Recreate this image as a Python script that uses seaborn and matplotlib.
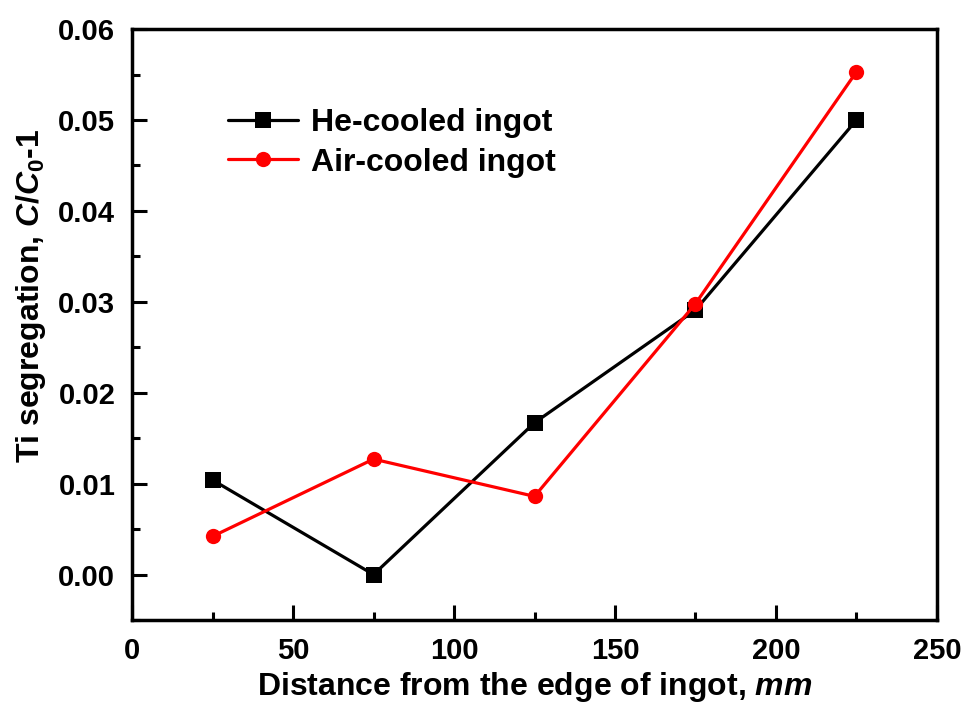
import matplotlib
matplotlib.use('Agg')
import matplotlib.pyplot as plt
import seaborn as sns
import pandas as pd
from matplotlib.ticker import MultipleLocator, FormatStrFormatter

# data
distance = [25, 75, 125, 175, 225]
he_cooled = [0.0104, 0.0000, 0.0167, 0.0291, 0.0500]
air_cooled = [0.0042, 0.0127, 0.0086, 0.0298, 0.0553]
series_names = ['He-cooled ingot', 'Air-cooled ingot']

df = pd.DataFrame({
    'Distance': distance * 2,
    'Seg': he_cooled + air_cooled,
    'Ingot': [series_names[0]] * len(distance) + [series_names[1]] * len(distance),
})

sns.set_style('ticks')
plt.rcParams['font.family'] = ['Liberation Sans', 'DejaVu Sans']
plt.rcParams['font.weight'] = 'bold'
plt.rcParams['text.color'] = 'black'
plt.rcParams['axes.labelcolor'] = 'black'
plt.rcParams['xtick.color'] = 'black'
plt.rcParams['ytick.color'] = 'black'
plt.rcParams['axes.edgecolor'] = 'black'
plt.rcParams['mathtext.fontset'] = 'custom'
plt.rcParams['mathtext.rm'] = 'Liberation Sans:bold'
plt.rcParams['mathtext.it'] = 'Liberation Sans:italic:bold'
plt.rcParams['mathtext.bf'] = 'Liberation Sans:bold'

fig = plt.figure(figsize=(9.61, 7.09), dpi=100)
ax = fig.add_axes([0.1374, 0.1255, 0.8376, 0.8335])

sns.lineplot(data=df, x='Distance', y='Seg', hue='Ingot', style='Ingot',
             palette={series_names[0]: 'black', series_names[1]: 'red'},
             markers={series_names[0]: 's', series_names[1]: 'o'},
             dashes=False, markersize=11, markeredgewidth=0, linewidth=2.3,
             ax=ax)

ax.set_xlim(0, 250)
ax.set_ylim(-0.005, 0.06)
ax.xaxis.set_major_locator(MultipleLocator(50))
ax.xaxis.set_minor_locator(MultipleLocator(25))
ax.yaxis.set_major_locator(MultipleLocator(0.01))
ax.yaxis.set_minor_locator(MultipleLocator(0.005))
ax.yaxis.set_major_formatter(FormatStrFormatter('%.2f'))
ax.tick_params(which='major', direction='in', length=11, width=2.2, labelsize=21, pad=12)
ax.tick_params(which='minor', direction='in', length=6, width=2.2)
for s in ax.spines.values():
    s.set_linewidth(2.5)
    s.set_visible(True)

ax.set_xlabel(r'Distance from the edge of ingot, $\mathit{mm}$', fontsize=23, fontweight='bold', labelpad=4)
ax.set_ylabel(r'Ti segregation, $\mathit{C/C}_{0}$-1', fontsize=23, fontweight='bold')
ax.yaxis.set_label_coords(-0.105, 0.548)

leg = ax.legend(loc='upper left', bbox_to_anchor=(0.083, 0.915), frameon=False,
                fontsize=23, handlelength=2.2, handletextpad=0.4, labelspacing=0.3)

fig.savefig('out.png', dpi=100)
